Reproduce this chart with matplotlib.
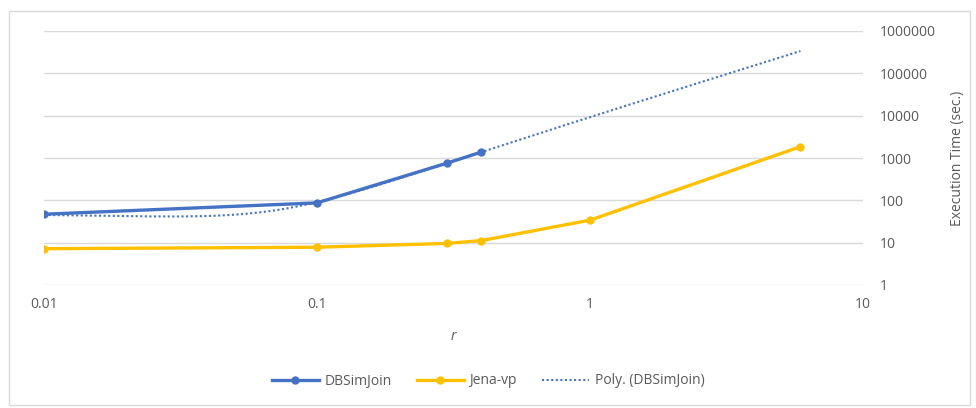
import numpy as np
import matplotlib.pyplot as plt
from matplotlib.patches import Rectangle

# data
r_db = [0.01, 0.1, 0.3, 0.4]
t_db = [47, 87, 760, 1380]
r_jena = [0.01, 0.1, 0.3, 0.4, 1, 5.9]
t_jena = [7.2, 7.8, 9.6, 11.2, 34, 1850]

yticks = [1, 10, 100, 1000, 10000, 100000, 1000000]
xticks = [0.01, 0.1, 1, 10]

plt.rcParams['font.family'] = ['Open Sans', 'DejaVu Sans']
grey = '#595959'

fig = plt.figure(figsize=(9.76, 4.08), dpi=100)
ax = fig.add_axes([44 / 976, 1 - 285 / 408, (863 - 44) / 976, (285 - 31) / 408])

# poly trendline, order 2, fitted like Excel does (linear space)
coef = np.polyfit(r_db, t_db, 2)
xx = np.linspace(0.01, 5.9, 2000)
yy = np.polyval(coef, xx)

ax.plot(r_db, t_db, color='#4472C4', lw=2.4, marker='o', ms=5, label='DBSimJoin', zorder=3)
ax.plot(r_jena, t_jena, color='#FFC000', lw=2.4, marker='o', ms=5, label='Jena-vp', zorder=3)
ax.plot(xx, yy, color='#4472C4', lw=1.5, ls=(0, (1, 1.2)), label='Poly. (DBSimJoin)', zorder=2)

ax.set_xscale('log')
ax.set_yscale('log')
ax.set_xlim(0.01, 10)
ax.set_ylim(1, 1000000)
ax.set_xticks(xticks)
ax.set_xticklabels(['0.01', '0.1', '1', '10'])
ax.set_yticks(yticks)
ax.set_yticklabels([str(v) for v in yticks])
ax.minorticks_off()
ax.yaxis.tick_right()
ax.yaxis.set_label_position('right')
ax.tick_params(axis='both', length=0, colors=grey, labelsize=10)
ax.tick_params(axis='y', pad=12)
ax.tick_params(axis='x', pad=9)
ax.grid(axis='y', color='#d9d9d9', lw=1)
ax.set_axisbelow(True)
for s in ax.spines.values():
    s.set_visible(False)

ax.set_xlabel('r', style='italic', color=grey, fontsize=10, labelpad=12)
ax.set_ylabel('Execution Time (sec.)', color=grey, fontsize=10, labelpad=10)

leg = fig.legend(loc='center', bbox_to_anchor=(0.5, 1 - 381 / 408), ncol=3, frameon=False,
                 fontsize=10, handlelength=3.4, handletextpad=0.4, columnspacing=1.8)
for t in leg.get_texts():
    t.set_color(grey)

fig.patches.append(Rectangle((9 / 976, 3 / 408), 961 / 976, 394 / 408, transform=fig.transFigure,
                             fill=False, edgecolor='#d9d9d9', lw=1))

fig.savefig('out.png', dpi=100)
